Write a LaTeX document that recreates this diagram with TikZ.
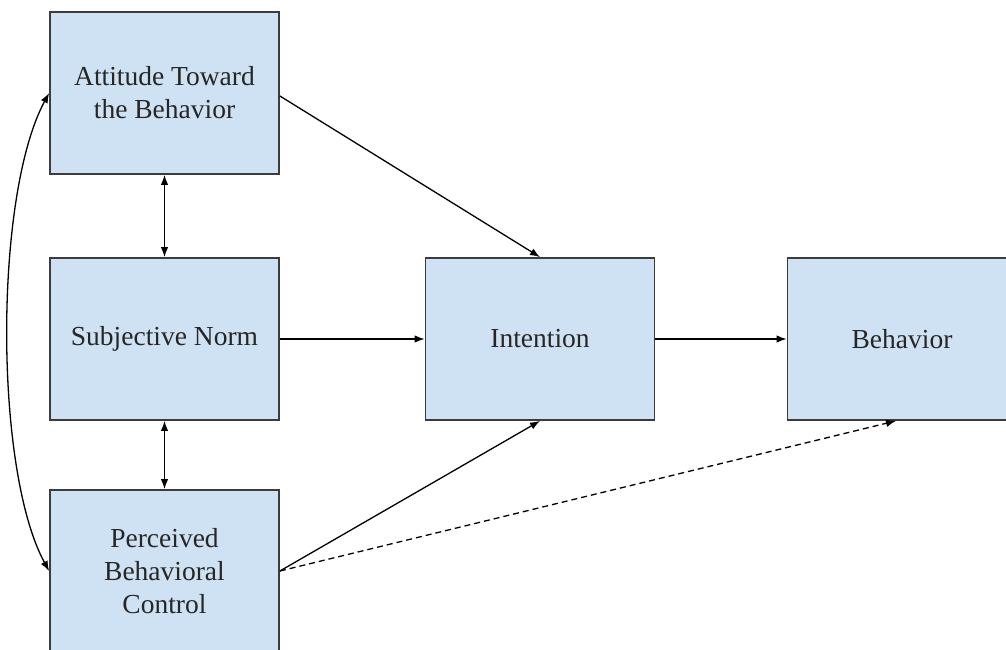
\documentclass[tikz,border=0pt]{standalone}
\usepackage{fontspec}
\setmainfont{Liberation Serif}
\usetikzlibrary{arrows.meta}
\definecolor{boxfill}{HTML}{CFE2F3}
\definecolor{boxline}{HTML}{3C3C3C}
\begin{document}
\begin{tikzpicture}[x=1pt,y=-1pt,
  factor/.style={draw=boxline,line width=1.8pt,fill=boxfill,minimum width=229pt,minimum height=162pt,
    inner sep=0pt,align=center,font=\fontsize{27.5}{33}\selectfont,text=black!85},
  link/.style={line width=1.3pt,-{Latex[length=10pt,width=7.5pt]}},
  both/.style={line width=1.3pt,{Latex[length=10pt,width=7.5pt]}-{Latex[length=10pt,width=7.5pt]}}]
\useasboundingbox (0,0) rectangle (1006,650);
\begin{scope}
\clip (0,0) rectangle (1006,650);
\node[factor] (att) at (164.5,93) {Attitude Toward\\the Behavior};
\node[factor] (sn) at (164.5,339) {Subjective Norm};
\node[factor] (pbc) at (164.5,571) {Perceived\\Behavioral\\Control};
\node[factor] (int) at (540,339) {Intention};
\node[factor] (beh) at (902,339) {Behavior};
\end{scope}
\draw[link] ([yshift=-3pt]att.east) -- (int.north);
\draw[link] (sn.east) -- (int.west);
\draw[link] (pbc.east) -- (int.south);
\draw[link] (int.east) -- (beh.west);
\draw[link,dashed,dash pattern=on 6pt off 4pt] (pbc.east) -- ([xshift=-6pt]beh.south);
\draw[both] (att.south) -- (sn.north);
\draw[both] (sn.south) -- (pbc.north);
\draw[both] (att.west) .. controls (-6,195) and (-6,470) .. (pbc.west);
\end{tikzpicture}
\end{document}
